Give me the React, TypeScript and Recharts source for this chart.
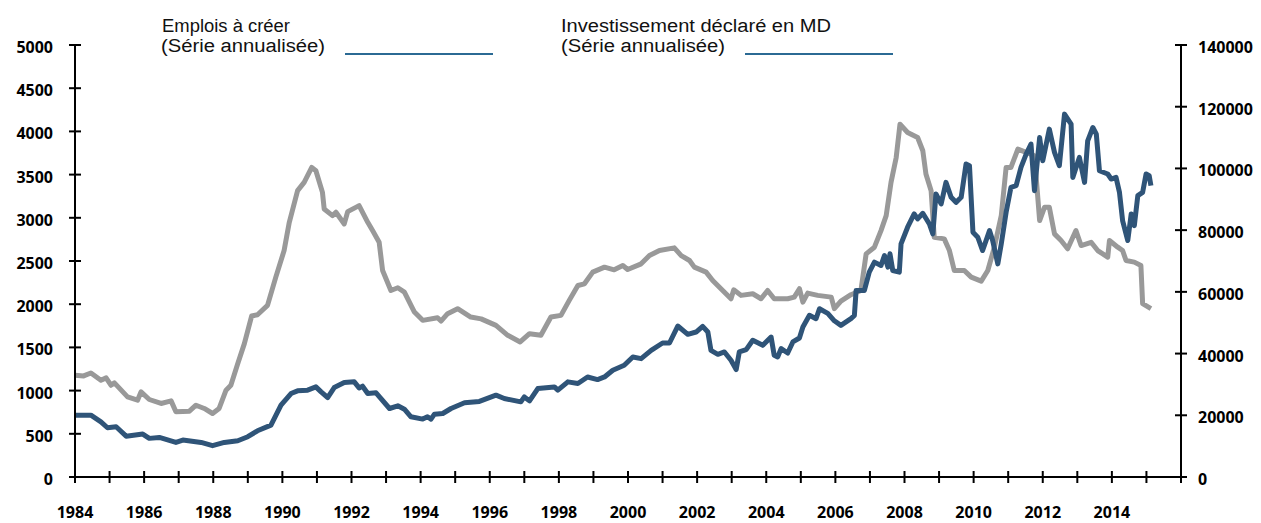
import React from 'react';
import { LineChart, Line, XAxis, YAxis } from 'recharts';

// Emplois à créer (left axis)
const jobsYears = [
  1984.0, 1984.25, 1984.46, 1984.75, 1984.9, 1985.04, 1985.14, 1985.52, 1985.81, 1985.91,
  1986.15, 1986.49, 1986.78, 1986.92, 1987.31, 1987.5, 1987.74, 1987.98, 1988.17, 1988.37,
  1988.51, 1988.71, 1988.9, 1989.11, 1989.28, 1989.57, 1989.81, 1990.05, 1990.2, 1990.44,
  1990.63, 1990.85, 1990.97, 1991.16, 1991.21, 1991.45, 1991.55, 1991.79, 1991.89, 1992.22,
  1992.47, 1992.61, 1992.8, 1992.9, 1993.14, 1993.34, 1993.53, 1993.82, 1994.06, 1994.49,
  1994.59, 1994.78, 1995.07, 1995.45, 1995.75, 1996.18, 1996.52, 1996.88, 1997.15, 1997.48,
  1997.77, 1998.06, 1998.3, 1998.55, 1998.74, 1998.98, 1999.32, 1999.6, 1999.85, 1999.99,
  2000.38, 2000.62, 2000.91, 2001.34, 2001.54, 2001.78, 2001.92, 2002.26, 2002.45, 2002.74,
  2002.98, 2003.06, 2003.27, 2003.61, 2003.85, 2004.04, 2004.23, 2004.62, 2004.81, 2004.96,
  2005.06, 2005.2, 2005.49, 2005.88, 2005.97, 2006.16, 2006.45, 2006.74, 2006.89, 2007.13,
  2007.32, 2007.47, 2007.61, 2007.76, 2007.87, 2008.09, 2008.38, 2008.53, 2008.62, 2008.77,
  2008.86, 2009.15, 2009.3, 2009.44, 2009.73, 2009.93, 2010.22, 2010.41, 2010.6, 2010.8,
  2010.94, 2011.08, 2011.28, 2011.52, 2011.76, 2011.91, 2012.05, 2012.19, 2012.34, 2012.53,
  2012.72, 2012.96, 2013.11, 2013.4, 2013.59, 2013.88, 2013.93, 2014.17, 2014.31, 2014.41,
  2014.65, 2014.84, 2014.89, 2015.13,
];
const jobsValues = [
  1178, 1170, 1204, 1120, 1147, 1062, 1089, 927, 889, 985,
  897, 851, 881, 754, 762, 831, 793, 735, 793, 1005,
  1062, 1313, 1544, 1863, 1878, 1986, 2313, 2621, 2948, 3314,
  3410, 3583, 3545, 3294, 3102, 3025, 3064, 2929, 3071, 3141,
  2948, 2852, 2717, 2390, 2159, 2190, 2140, 1909, 1813, 1844,
  1805, 1890, 1948, 1851, 1830, 1755, 1640, 1563, 1659, 1640,
  1851, 1871, 2044, 2217, 2236, 2371, 2429, 2398, 2448, 2402,
  2467, 2563, 2621, 2652, 2563, 2506, 2429, 2371, 2275, 2159,
  2063, 2167, 2102, 2121, 2063, 2159, 2063, 2063, 2082, 2179,
  2024, 2128, 2102, 2082, 1948, 2035, 2110, 2159, 2583, 2660,
  2852, 3025, 3410, 3699, 4084, 3987, 3929, 3776, 3507, 3314,
  2775, 2756, 2621, 2390, 2390, 2313, 2267, 2390, 2660, 3025,
  3583, 3583, 3795, 3757, 3718, 2968, 3121, 3121, 2814, 2737,
  2641, 2852, 2679, 2717, 2621, 2544, 2737, 2660, 2621, 2506,
  2487, 2448, 2006, 1948,
];

// Investissement déclaré en MD (right axis)
const investYears = [
  1984.0, 1984.46, 1984.75, 1984.94, 1985.19, 1985.48, 1985.96, 1986.15, 1986.44, 1986.92,
  1987.12, 1987.65, 1987.98, 1988.32, 1988.71, 1989.0, 1989.28, 1989.67, 1989.96, 1990.25,
  1990.44, 1990.73, 1990.97, 1991.12, 1991.31, 1991.5, 1991.79, 1992.08, 1992.22, 1992.32,
  1992.47, 1992.71, 1993.1, 1993.34, 1993.53, 1993.72, 1994.06, 1994.2, 1994.3, 1994.4,
  1994.64, 1994.88, 1995.27, 1995.7, 1996.18, 1996.42, 1996.9, 1997.0, 1997.15, 1997.39,
  1997.87, 1997.97, 1998.26, 1998.55, 1998.83, 1999.12, 1999.32, 1999.56, 1999.89, 2000.14,
  2000.38, 2000.67, 2001.0, 2001.2, 2001.44, 2001.73, 2001.97, 2002.16, 2002.31, 2002.4,
  2002.6, 2002.79, 2002.98, 2003.13, 2003.22, 2003.42, 2003.61, 2003.9, 2004.14, 2004.23,
  2004.33, 2004.43, 2004.62, 2004.77, 2004.96, 2005.06, 2005.25, 2005.44, 2005.54, 2005.78,
  2005.97, 2006.16, 2006.45, 2006.55, 2006.6, 2006.84, 2006.98, 2007.13, 2007.32, 2007.42,
  2007.52, 2007.58, 2007.66, 2007.85, 2007.9, 2008.09, 2008.28, 2008.38, 2008.53, 2008.72,
  2008.82, 2008.91, 2009.06, 2009.2, 2009.35, 2009.49, 2009.64, 2009.78, 2009.88, 2009.98,
  2010.12, 2010.26, 2010.46, 2010.55, 2010.7, 2010.8, 2010.94, 2011.08, 2011.23, 2011.37,
  2011.52, 2011.66, 2011.76, 2011.91, 2012.0, 2012.19, 2012.34, 2012.48, 2012.63, 2012.82,
  2012.87, 2013.06, 2013.21, 2013.3, 2013.45, 2013.55, 2013.64, 2013.88, 2013.98, 2014.12,
  2014.22, 2014.31, 2014.46, 2014.56, 2014.65, 2014.75, 2014.89, 2014.99, 2015.08, 2015.13,
];
const investValues = [
  20050, 20050, 17890, 15960, 16270, 13240, 13920, 12520, 12820, 11200,
  11960, 11200, 10140, 11200, 11730, 13050, 14980, 16800, 23270, 27050,
  27920, 28140, 29200, 27580, 25760, 28980, 30600, 30830, 28870, 29430,
  27050, 27270, 22200, 23070, 21980, 19520, 18760, 19520, 18760, 20360,
  20580, 22200, 24080, 24500, 26520, 25420, 24360, 25960, 24670, 28670,
  29200, 28140, 30830, 30300, 32420, 31580, 32420, 34610, 36200, 38890,
  38360, 41050, 43430, 43430, 48920, 46230, 46980, 48830, 46980, 41050,
  39760, 40520, 37830, 34830, 40520, 41270, 44300, 42670, 45360, 39450,
  38890, 41610, 40180, 43760, 45050, 48610, 52390, 51300, 54540, 53030,
  50620, 49140, 51300, 52390, 60450, 60450, 66390, 69640, 68540, 71760,
  68010, 72320, 66920, 66390, 75540, 80950, 85260, 83640, 85460, 82010,
  78790, 91730, 88480, 95480, 90640, 89010, 90640, 101420, 100880, 79320,
  77700, 73390, 79860, 76640, 69080, 75540, 85790, 93860, 94420, 100320,
  104660, 107880, 92790, 110010, 102480, 112730, 105200, 100880, 117600, 114350,
  97100, 103570, 95480, 108950, 113260, 111100, 99260, 98200, 96570, 97100,
  92230, 83100, 76640, 85260, 81480, 91170, 92230, 98200, 97640, 94420,
];

const yearTicks = [
  1984, 1985, 1986, 1987, 1988, 1989, 1990, 1991, 1992, 1993, 1994,
  1995, 1996, 1997, 1998, 1999, 2000, 2001, 2002, 2003, 2004, 2005,
  2006, 2007, 2008, 2009, 2010, 2011, 2012, 2013, 2014, 2015, 2016,
];
const yearLabels = [1984, 1986, 1988, 1990, 1992, 1994, 1996, 1998, 2000, 2002, 2004, 2006, 2008, 2010, 2012, 2014];
const leftTicks = [0, 500, 1000, 1500, 2000, 2500, 3000, 3500, 4000, 4500, 5000];
const rightTicks = [0, 20000, 40000, 60000, 80000, 100000, 120000, 140000];

const jobsData = jobsYears.map((x, i) => ({ x, v: jobsValues[i] }));
const investData = investYears.map((x, i) => ({ x, v: investValues[i] }));

const GRAY = '#999999';
const BLUE = '#2f5478';
const LEGEND_BLUE = '#2b6a94';
const TICK_FONT = { fontFamily: '"Open Sans", sans-serif', fontWeight: 700, fontSize: 16, fill: '#000' };

const BottomTick = (props: any) => {
  const { x, y, payload } = props;
  const show = yearLabels.includes(payload.value);
  return (
    <g>
      <line x1={x} x2={x} y1={y - 6} y2={y + 6} stroke="#000" strokeWidth={2} />
      {show && (
        <text x={x} y={y + 41} textAnchor="middle" style={TICK_FONT}>
          {payload.value}
        </text>
      )}
    </g>
  );
};

const LeftTick = (props: any) => {
  const { x, y, payload } = props;
  return (
    <g>
      <line x1={x - 6} x2={x + 6} y1={y} y2={y} stroke="#000" strokeWidth={2} />
      <text x={x - 22} y={y + 8} textAnchor="end" style={TICK_FONT}>
        {payload.value}
      </text>
    </g>
  );
};

const RightTick = (props: any) => {
  const { x, y, payload } = props;
  return (
    <g>
      <line x1={x - 6} x2={x + 6} y1={y} y2={y} stroke="#000" strokeWidth={2} />
      <text x={x + 17} y={y + 8} textAnchor="start" style={TICK_FONT}>
        {payload.value}
      </text>
    </g>
  );
};

const legendFont = { fontFamily: '"Liberation Sans", Arial, sans-serif', fontSize: 18, fill: '#111' };

export default function App() {
  return (
    <div style={{ position: 'relative', width: 1253, height: 515 }}>
      <LineChart
        width={1253}
        height={515}
        margin={{ top: 37, right: 0, bottom: 0, left: 0 }}
      >
        <XAxis
          type="number"
          dataKey="x"
          domain={[1984, 2016]}
          ticks={yearTicks}
          interval={0}
          tick={<BottomTick />}
          tickLine={false}
          tickSize={0}
          tickMargin={0}
          height={46}
          axisLine={{ stroke: '#000', strokeWidth: 2 }}
          allowDecimals={false}
        />
        <YAxis
          yAxisId="left"
          orientation="left"
          domain={[0, 5000]}
          ticks={leftTicks}
          interval={0}
          width={67}
          tick={<LeftTick />}
          tickLine={false}
          tickSize={0}
          tickMargin={0}
          axisLine={{ stroke: '#000', strokeWidth: 2 }}
        />
        <YAxis
          yAxisId="right"
          orientation="right"
          domain={[0, 140000]}
          ticks={rightTicks}
          interval={0}
          width={80}
          tick={<RightTick />}
          tickLine={false}
          tickSize={0}
          tickMargin={0}
          axisLine={{ stroke: '#000', strokeWidth: 2 }}
        />
        <Line
          yAxisId="left"
          data={jobsData}
          dataKey="v"
          type="linear"
          stroke={GRAY}
          strokeWidth={5}
          strokeLinejoin="round"
          dot={false}
          isAnimationActive={false}
        />
        <Line
          yAxisId="right"
          data={investData}
          dataKey="v"
          type="linear"
          stroke={BLUE}
          strokeWidth={5}
          strokeLinejoin="round"
          dot={false}
          isAnimationActive={false}
        />
      </LineChart>
      <svg
        width={1253}
        height={70}
        style={{ position: 'absolute', left: 0, top: 0, pointerEvents: 'none' }}
      >
        <text x={154} y={24} textLength={128} lengthAdjust="spacingAndGlyphs" style={legendFont}>
          Emplois à créer
        </text>
        <text x={153} y={44} textLength={164} lengthAdjust="spacingAndGlyphs" style={legendFont}>
          (Série annualisée)
        </text>
        <line x1={337} x2={485} y1={46} y2={46} stroke={LEGEND_BLUE} strokeWidth={2} />
        <text x={553} y={24} textLength={270} lengthAdjust="spacingAndGlyphs" style={legendFont}>
          Investissement déclaré en MD
        </text>
        <text x={553} y={44} textLength={164} lengthAdjust="spacingAndGlyphs" style={legendFont}>
          (Série annualisée)
        </text>
        <line x1={737} x2={885} y1={46} y2={46} stroke={LEGEND_BLUE} strokeWidth={2} />
      </svg>
    </div>
  );
}
